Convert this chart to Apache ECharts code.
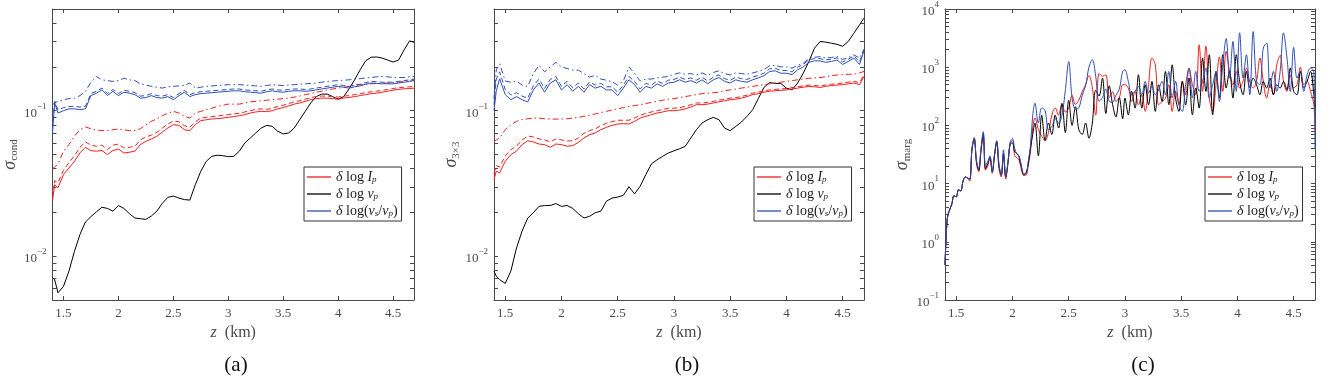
<!DOCTYPE html>
<html><head><meta charset="utf-8">
<script src="https://cdn.jsdelivr.net/npm/echarts@6/dist/echarts.min.js"></script>
<style>html,body{margin:0;padding:0;background:#fff}#c{width:1333px;height:383px}</style>
</head><body><div id="c"></div>
<script>
// ---------- data ----------
const zAB = [1.40,1.42,1.45,1.50,1.55,1.60,1.65,1.70,1.75,1.80,1.85,1.90,1.95,2.00,2.05,2.10,2.15,2.20,2.25,2.30,2.35,2.40,2.45,2.50,2.55,2.60,2.65,2.70,2.75,2.80,2.85,2.90,2.95,3.00,3.05,3.10,3.15,3.20,3.25,3.30,3.35,3.40,3.45,3.50,3.55,3.60,3.65,3.70,3.75,3.80,3.85,3.90,3.95,4.00,4.05,4.10,4.15,4.20,4.25,4.30,4.35,4.40,4.45,4.50,4.55,4.60,4.65,4.69];

// panel (a)
const aBlk = [0.0071,0.0069,0.0056,0.0062,0.0079,0.0108,0.0141,0.0172,0.0187,0.0202,
 0.0217,0.0213,0.0204,0.0223,0.0213,0.0196,0.0183,0.0181,0.0179,0.0189,
 0.0204,0.0231,0.0254,0.0259,0.0251,0.0245,0.0243,0.0310,0.0384,0.0449,
 0.0486,0.0494,0.0491,0.0483,0.0486,0.0526,0.0600,0.0649,0.0703,0.0760,
 0.0793,0.0781,0.0722,0.0692,0.0703,0.0760,0.0868,0.0990,0.113,0.125,
 0.130,0.130,0.125,0.120,0.125,0.1415,0.163,0.191,0.220,0.233,
 0.234,0.230,0.223,0.216,0.223,0.262,0.302,0.295];
const aRedS = [0.0239,0.031,0.0295,0.0364,0.0404,0.0449,0.0513,0.0560,0.0531,0.0527,
 0.0533,0.0499,0.0533,0.0545,0.0512,0.0518,0.0527,0.0585,0.0616,0.0639,
 0.0667,0.0714,0.0760,0.0802,0.0793,0.0741,0.0729,0.0802,0.0854,0.0867,
 0.0877,0.0882,0.089,0.090,0.091,0.0924,0.094,0.0964,0.098,0.099,
 0.0985,0.100,0.103,0.105,0.108,0.111,0.113,0.116,0.119,0.121,
 0.122,0.122,0.121,0.120,0.122,0.1235,0.125,0.127,0.129,0.131,
 0.132,0.134,0.136,0.1385,0.140,0.1415,0.142,0.143];
const aRedD = [0.028,0.033,0.032,0.039,0.044,0.049,0.056,0.061,0.058,0.057,
 0.058,0.054,0.058,0.059,0.0555,0.056,0.057,0.063,0.066,0.068,
 0.071,0.076,0.081,0.085,0.084,0.079,0.077,0.084,0.089,0.090,
 0.091,0.092,0.093,0.094,0.095,0.096,0.098,0.100,0.102,0.103,
 0.102,0.104,0.107,0.109,0.112,0.115,0.117,0.120,0.123,0.125,
 0.126,0.126,0.125,0.124,0.126,0.127,0.129,0.131,0.133,0.135,
 0.136,0.138,0.140,0.142,0.144,0.145,0.146,0.147];
const aRedDD = [0.040,0.041,0.043,0.0526,0.0585,0.0667,0.0741,0.0773,0.0752,0.0736,
 0.073,0.0729,0.074,0.0749,0.074,0.0729,0.073,0.0752,0.080,0.0845,
 0.088,0.0925,0.096,0.099,0.0964,0.0915,0.089,0.0964,0.099,0.1016,
 0.104,0.107,0.109,0.111,0.111,0.111,0.113,0.115,0.116,0.117,
 0.118,0.119,0.120,0.121,0.122,0.124,0.126,0.129,0.131,0.134,
 0.136,0.139,0.141,0.143,0.145,0.147,0.149,0.151,0.152,0.153,
 0.154,0.154,0.155,0.156,0.157,0.159,0.161,0.163];
const aBluS = [0.0703,0.113,0.0964,0.100,0.103,0.103,0.1016,0.103,0.127,0.132,
 0.139,0.127,0.136,0.127,0.134,0.132,0.129,0.122,0.123,0.127,
 0.123,0.122,0.125,0.119,0.127,0.134,0.125,0.129,0.131,0.132,
 0.133,0.134,0.135,0.136,0.137,0.137,0.135,0.134,0.133,0.132,
 0.135,0.137,0.135,0.134,0.136,0.137,0.137,0.136,0.137,0.139,
 0.141,0.143,0.145,0.147,0.145,0.143,0.146,0.148,0.152,0.155,
 0.154,0.153,0.153,0.153,0.155,0.157,0.159,0.161];
const aBluD = [0.075,0.116,0.101,0.105,0.107,0.107,0.106,0.107,0.131,0.136,
 0.143,0.131,0.140,0.131,0.138,0.136,0.133,0.126,0.127,0.131,
 0.127,0.126,0.129,0.123,0.131,0.138,0.129,0.133,0.135,0.136,
 0.137,0.138,0.139,0.140,0.141,0.141,0.139,0.138,0.137,0.136,
 0.139,0.141,0.139,0.138,0.140,0.141,0.141,0.140,0.141,0.143,
 0.145,0.147,0.149,0.151,0.149,0.147,0.150,0.152,0.156,0.159,
 0.158,0.157,0.157,0.157,0.159,0.161,0.163,0.165];
const aBluDD = [0.110,0.113,0.116,0.119,0.121,0.122,0.127,0.136,0.157,0.172,
 0.163,0.161,0.159,0.161,0.167,0.163,0.161,0.153,0.150,0.147,
 0.145,0.143,0.146,0.147,0.148,0.149,0.155,0.143,0.145,0.147,
 0.148,0.149,0.150,0.151,0.151,0.151,0.150,0.149,0.148,0.147,
 0.149,0.151,0.150,0.149,0.150,0.151,0.152,0.153,0.154,0.155,
 0.157,0.159,0.160,0.161,0.162,0.163,0.165,0.166,0.168,0.169,
 0.171,0.172,0.171,0.169,0.169,0.169,0.171,0.172];

// panel (b)
const bBlk = [0.0079,0.0073,0.0069,0.0065,0.0079,0.0114,0.0149,0.0183,0.0199,0.0220,
 0.0223,0.0223,0.0230,0.0220,0.0223,0.0213,0.0196,0.0183,0.0188,0.0199,
 0.0204,0.0239,0.0251,0.0255,0.0262,0.0300,0.0268,0.0303,0.0364,0.0431,
 0.046,0.0486,0.0512,0.0530,0.0548,0.0569,0.0649,0.0741,0.0823,0.0867,
 0.090,0.0867,0.076,0.0729,0.078,0.0836,0.0915,0.1016,0.121,0.1445,
 0.156,0.154,0.154,0.143,0.139,0.155,0.181,0.218,0.269,0.299,
 0.296,0.291,0.286,0.277,0.299,0.341,0.389,0.433];
const bRedS = [0.0336,0.0384,0.0374,0.0449,0.0499,0.0527,0.0585,0.0622,0.061,0.059,
 0.0585,0.056,0.059,0.0585,0.057,0.0575,0.0606,0.0649,0.0684,0.0703,
 0.0741,0.0769,0.0793,0.081,0.0814,0.081,0.0845,0.089,0.0915,0.0939,
 0.0964,0.098,0.100,0.100,0.101,0.103,0.106,0.110,0.110,0.111,
 0.113,0.115,0.117,0.119,0.120,0.122,0.125,0.129,0.131,0.134,
 0.136,0.137,0.138,0.139,0.141,0.143,0.145,0.147,0.146,0.1445,
 0.147,0.149,0.150,0.151,0.153,0.155,0.151,0.172];
const bRedD = [0.037,0.042,0.041,0.049,0.054,0.057,0.063,0.067,0.066,0.064,
 0.063,0.061,0.064,0.063,0.062,0.062,0.065,0.070,0.073,0.075,
 0.079,0.082,0.084,0.086,0.086,0.086,0.089,0.093,0.096,0.098,
 0.100,0.102,0.104,0.104,0.105,0.107,0.110,0.113,0.113,0.114,
 0.116,0.118,0.120,0.122,0.123,0.125,0.128,0.132,0.134,0.137,
 0.139,0.140,0.141,0.142,0.144,0.146,0.148,0.150,0.149,0.148,
 0.150,0.152,0.153,0.155,0.157,0.159,0.156,0.176];
const bRedDD = [0.061,0.063,0.065,0.074,0.080,0.0845,0.087,0.088,0.089,0.089,
 0.088,0.0877,0.0875,0.0877,0.088,0.089,0.090,0.0915,0.093,0.095,
 0.097,0.099,0.101,0.103,0.105,0.107,0.1085,0.110,0.112,0.114,
 0.116,0.118,0.120,0.121,0.123,0.125,0.127,0.129,0.131,0.132,
 0.133,0.134,0.137,0.139,0.141,0.143,0.145,0.147,0.149,0.151,
 0.153,0.155,0.157,0.159,0.161,0.163,0.165,0.167,0.168,0.169,
 0.171,0.174,0.176,0.177,0.178,0.178,0.182,0.186];
const bBluS = [0.100,0.136,0.166,0.129,0.119,0.125,0.119,0.115,0.139,0.155,
 0.134,0.155,0.163,0.139,0.151,0.136,0.147,0.134,0.151,0.143,
 0.147,0.139,0.139,0.127,0.143,0.163,0.151,0.134,0.147,0.143,
 0.153,0.147,0.155,0.157,0.163,0.157,0.161,0.155,0.163,0.153,
 0.163,0.169,0.159,0.155,0.163,0.159,0.157,0.163,0.168,0.174,
 0.186,0.188,0.181,0.181,0.177,0.191,0.200,0.215,0.220,0.220,
 0.215,0.218,0.223,0.208,0.218,0.230,0.208,0.258];
const bBluD = [0.110,0.165,0.185,0.140,0.128,0.133,0.126,0.122,0.148,0.165,
 0.142,0.164,0.172,0.147,0.159,0.144,0.155,0.141,0.158,0.150,
 0.154,0.146,0.146,0.134,0.150,0.172,0.159,0.141,0.154,0.150,
 0.160,0.154,0.162,0.164,0.170,0.164,0.168,0.162,0.170,0.160,
 0.170,0.176,0.166,0.162,0.170,0.166,0.164,0.170,0.175,0.181,
 0.194,0.196,0.189,0.189,0.185,0.199,0.208,0.223,0.228,0.228,
 0.223,0.226,0.231,0.216,0.226,0.238,0.216,0.266];
const bBluDD = [0.120,0.190,0.210,0.160,0.157,0.160,0.150,0.147,0.180,0.205,
 0.185,0.200,0.215,0.200,0.195,0.190,0.190,0.180,0.170,0.175,
 0.165,0.162,0.158,0.150,0.160,0.200,0.180,0.160,0.165,0.165,
 0.168,0.170,0.172,0.178,0.182,0.178,0.180,0.176,0.182,0.175,
 0.183,0.188,0.180,0.176,0.182,0.180,0.178,0.182,0.186,0.192,
 0.203,0.205,0.200,0.200,0.196,0.205,0.212,0.228,0.233,0.235,
 0.230,0.232,0.236,0.225,0.232,0.242,0.230,0.262];

// panel (c)
const zC = [1.40,1.42,1.44,1.46,1.48,1.50,1.52,1.54,1.56,1.58,
 1.60,1.62,1.64,1.66,1.68,1.70,1.72,1.74,1.76,1.78,
 1.80,1.82,1.84,1.86,1.88,1.90,1.92,1.94,1.96,1.98,
 2.00,2.02,2.04,2.06,2.08,2.10,2.12,2.14,2.16,2.18,
 2.20,2.23,2.26,2.29,2.32,2.35,2.38,2.41,2.44,2.47,
 2.50,2.53,2.56,2.59,2.62,2.65,2.68,2.71,2.74,2.77,
 2.80,2.83,2.86,2.89,2.92,2.95,2.98,
 3.00,3.03,3.06,3.09,3.12,3.15,3.18,3.21,3.24,3.27,
 3.30,3.33,3.36,3.39,3.42,3.45,3.48,3.51,3.54,3.57,
 3.60,3.63,3.66,3.69,3.72,3.75,3.78,3.81,3.84,3.87,
 3.90,3.93,3.96,3.99,4.02,4.05,4.08,4.11,4.14,4.17,
 4.20,4.23,4.26,4.29,4.32,4.35,4.38,4.41,4.44,4.47,
 4.50,4.53,4.56,4.59,4.62,4.65,4.68,4.69];
const cRed = [0.4,2.5,3.5,4.4,6.2,5.9,7.8,7.5,10.9,13,
 12.5,11,38,62,22,16,35,65,17,20,
 28,15,30,52,18,13,30,12,22,50,
 55,30,28,25,17,14,14,20,35,90,
 135,85,65,55,75,150,200,150,230,170,
 200,330,230,270,380,500,720,450,150,780,
 700,740,300,380,260,300,500,
 500,438,258,384,226,336,174,500,1440,1100,
 226,258,295,500,174,384,226,570,336,966,
 500,336,2430,384,2300,295,174,500,1500,384,
 1870,846,500,846,438,570,966,570,438,570,
 1440,570,295,500,336,1100,1600,570,384,742,
 438,500,1000,500,570,384,226,80];
const cBlk = [0.4,2.5,3.5,4.4,6.2,5.9,7.8,7.5,10.9,13,
 12.5,12,40,58,24,17,38,72,18,22,
 28,16,30,52,20,14,33,13,23,48,
 50,35,33,28,19,14,15,22,40,70,
 110,30,150,55,110,70,150,90,240,75,
 270,100,210,85,70,110,60,110,400,320,
 650,160,480,230,140,300,130,
 295,152,384,198,742,198,500,226,570,174,
 500,258,846,226,1100,295,174,570,226,650,
 152,438,198,1440,384,1640,152,846,295,1640,
 438,846,295,1640,570,336,846,438,650,500,
 336,570,438,650,336,500,438,570,410,966,
 384,336,846,438,570,846,336,200];
const cBlu = [0.4,2.5,3.5,4.4,6.2,5.9,7.8,7.5,10.9,13,
 12.5,12,40,60,25,18,40,78,20,24,
 30,16,32,55,22,14,38,13,24,52,
 60,40,32,30,20,15,15,24,45,150,
 240,110,200,180,85,95,130,110,150,400,
 1250,300,190,200,330,480,1000,1350,700,260,
 300,420,260,250,330,420,850,
 900,570,336,384,465,336,570,360,465,336,
 410,570,336,846,295,570,226,174,500,966,
 295,846,384,570,966,295,500,846,258,1100,
 3100,650,2770,384,3900,650,1640,336,4100,570,
 500,2130,2600,438,846,384,846,3900,1500,384,
 2200,650,846,384,742,966,846,40];

// ticks
const xTicks = [1.5,2,2.5,3,3.5,4,4.5];
const yLabAB = [0.01,0.1];
const yTickAB = [0.006,0.007,0.008,0.009,0.01,0.02,0.03,0.04,0.05,0.06,0.07,0.08,0.09,0.1,0.2,0.3,0.4];
const yLabC = [0.1,1,10,100,1000,10000];
const yTickC = [0.2,0.3,0.4,0.5,0.6,0.7,0.8,0.9,1,2,3,4,5,6,7,8,9,10,20,30,40,50,60,70,80,90,100,200,300,400,500,600,700,800,900,1000,2000,3000,4000,5000,6000,7000,8000,9000];

// ---------- chart ----------
const FONT = 'Liberation Serif';
const AX = '#4a4a4a';
const TXT = '#4a4a4a';
const RED = '#f01e1e', BLK = '#000000', BLU = '#2f4fb5';
const DASH = [5,3], DDOT = [6,3,1.5,3];

const grids = [
  {left:45, top:9, width:369, height:291},
  {left:494, top:9, width:370, height:291},
  {left:945, top:9, width:370, height:291}
];

function expLabel(v){
  const e = Math.round(Math.log10(v));
  return '{b|10}{sup|' + (e < 0 ? '\u2212' + (-e) : String(e)) + '}';
}
const richTick = {
  b: {fontFamily: FONT, fontSize: 13, color: TXT, lineHeight: 18, verticalAlign: 'bottom'},
  sup: {fontFamily: FONT, fontSize: 9, color: TXT, lineHeight: 6, verticalAlign: 'top'}
};

function xAx(i, pos){
  const bottom = pos === 'bottom';
  return {
    type: 'value', gridIndex: i, position: pos, min: 1.4, max: 4.69,
    axisLine: {show: true, onZero: false, lineStyle: {color: AX, width: 1}},
    axisTick: {show: true, inside: true, length: 4, customValues: xTicks, lineStyle: {color: AX}},
    axisLabel: {show: bottom, customValues: xTicks, margin: 7, fontFamily: FONT, fontSize: 13, color: TXT,
      formatter: v => String(v)},
    splitLine: {show: false},
    name: bottom ? '{i|z}  (km)' : '', nameLocation: 'middle', nameGap: 22,
    nameTextStyle: {fontFamily: FONT, fontSize: 16, color: TXT,
      rich: {i: {fontFamily: FONT, fontStyle: 'italic', fontSize: 16, color: TXT}}}
  };
}
function yAx(i, pos, min, max, ticks, labels, name, gap){
  const left = pos === 'left';
  return {
    type: 'log', logBase: 10, gridIndex: i, position: pos, min: min, max: max,
    axisLine: {show: true, onZero: false, lineStyle: {color: AX, width: 1}},
    axisTick: {show: true, inside: true, length: 4, customValues: ticks, lineStyle: {color: AX}},
    axisLabel: {show: left, customValues: labels, formatter: expLabel, rich: richTick, margin: 6},
    splitLine: {show: false},
    name: left ? name : '', nameLocation: 'middle', nameGap: gap,
    nameTextStyle: {color: TXT, rich: {
      s: {fontFamily: FONT, fontStyle: 'italic', fontSize: 18, color: TXT, lineHeight: 20},
      sub: {fontFamily: FONT, fontSize: 11, color: TXT, lineHeight: 6, verticalAlign: 'bottom'}
    }}
  };
}

function mk(name, p, xs, ys, color, type, smooth){
  return {
    name: name, type: 'line', xAxisIndex: 2*p, yAxisIndex: 2*p,
    data: xs.map((z, k) => [z, ys[k]]),
    showSymbol: false, symbol: 'none', silent: true, animation: false,
    smooth: smooth || false,
    lineStyle: {color: color, width: 1, type: type}, itemStyle: {color: color}
  };
}

const legNames = {
  Ip: '{d|\u03b4} log {i|I}{s|p}',
  vp: '{d|\u03b4} log {i|v}{s|p}',
  vsvp: '{d|\u03b4} log({i|v}{s|s}/{i|v}{s|p})'
};
function legend(left){
  return {
    orient: 'vertical', left: left, top: 167, data: ['Ip','vp','vsvp'],
    icon: 'path://M0,0L24,0L24,1.3L0,1.3Z',
    itemWidth: 24, itemHeight: 12, itemGap: 3, padding: [3, 4, 3, 3],
    borderColor: '#333', borderWidth: 1, backgroundColor: '#fff', selectedMode: false,
    formatter: n => legNames[n],
    textStyle: {fontFamily: FONT, fontSize: 14, color: '#222', lineHeight: 14,
      rich: {
        d: {fontFamily: FONT, fontStyle: 'italic', fontSize: 14, color: '#222'},
        i: {fontFamily: FONT, fontStyle: 'italic', fontSize: 14, color: '#222'},
        s: {fontFamily: FONT, fontStyle: 'italic', fontSize: 9, color: '#222', lineHeight: 6, verticalAlign: 'bottom'}
      }}
  };
}
function cap(text, x){
  return {text: text, left: x, top: 350, textAlign: 'center',
    textStyle: {fontFamily: FONT, fontSize: 21, fontWeight: 'normal', color: '#111'}};
}

const option = {
  animation: false,
  backgroundColor: '#fff',
  title: [cap('(a)', 231), cap('(b)', 682), cap('(c)', 1138)],
  grid: grids,
  xAxis: [xAx(0,'bottom'), xAx(0,'top'), xAx(1,'bottom'), xAx(1,'top'), xAx(2,'bottom'), xAx(2,'top')],
  yAxis: [
    yAx(0,'left',0.005,0.5,yTickAB,yLabAB,'{s|\u03c3}{sub|cond}',28),
    yAx(0,'right',0.005,0.5,yTickAB,yLabAB,'',0),
    yAx(1,'left',0.005,0.5,yTickAB,yLabAB,'{s|\u03c3}{sub|3\u00d73}',28),
    yAx(1,'right',0.005,0.5,yTickAB,yLabAB,'',0),
    yAx(2,'left',0.1,10000,yTickC,yLabC,'{s|\u03c3}{sub|marg}',32),
    yAx(2,'right',0.1,10000,yTickC,yLabC,'',0)
  ],
  legend: [legend(304), legend(754), legend(1205)],
  series: [
    mk('vp', 0, zAB, aBlk, BLK, 'solid'),
    mk('Ip', 0, zAB, aRedS, RED, 'solid'),
    mk('Ip_d', 0, zAB, aRedD, RED, DASH),
    mk('Ip_dd', 0, zAB, aRedDD, RED, DDOT),
    mk('vsvp', 0, zAB, aBluS, BLU, 'solid'),
    mk('vsvp_d', 0, zAB, aBluD, BLU, DASH),
    mk('vsvp_dd', 0, zAB, aBluDD, BLU, DDOT),

    mk('vp', 1, zAB, bBlk, BLK, 'solid'),
    mk('Ip', 1, zAB, bRedS, RED, 'solid'),
    mk('Ip_d', 1, zAB, bRedD, RED, DASH),
    mk('Ip_dd', 1, zAB, bRedDD, RED, DDOT),
    mk('vsvp', 1, zAB, bBluS, BLU, 'solid'),
    mk('vsvp_d', 1, zAB, bBluD, BLU, DASH),
    mk('vsvp_dd', 1, zAB, bBluDD, BLU, DDOT),

    mk('Ip', 2, zC, cRed, RED, 'solid', 0.35),
    mk('vp', 2, zC, cBlk, BLK, 'solid', 0.35),
    mk('vsvp', 2, zC, cBlu, BLU, 'solid', 0.35)
  ]
};
const chart = echarts.init(document.getElementById('c'), null, {renderer: 'canvas'});
chart.setOption(option);
</script>
</body></html>
